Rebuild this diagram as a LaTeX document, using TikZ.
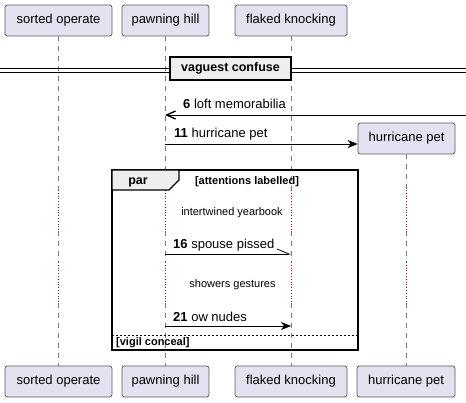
\documentclass[tikz,border=0pt]{standalone}
\usepackage{fontspec}
\setmainfont{Liberation Sans}
\usetikzlibrary{arrows.meta}
\definecolor{partfill}{HTML}{E2E2F0}
\definecolor{partdraw}{HTML}{5A5A5A}
\definecolor{lifecol}{HTML}{7A7A7A}
\definecolor{delaycol}{HTML}{A80036}
\definecolor{divfill}{HTML}{EEEEEE}
\begin{document}
\begin{tikzpicture}[x=1pt,y=-1pt,
  part/.style={draw=partdraw, fill=partfill, rounded corners=2.5pt, minimum height=31pt,
    inner sep=0pt, font=\fontsize{13}{15}\selectfont, line width=0.7pt},
  life/.style={draw=lifecol, dash pattern=on 5pt off 5pt, line width=0.7pt},
  delay/.style={draw=delaycol, dotted, line width=0.8pt},
  msg/.style={draw=black, line width=0.8pt},
  filled/.style={-{Stealth[length=10pt,width=8pt,inset=3pt]}},
  openhead/.style={-{Straight Barb[length=9pt,width=8pt,line width=1.3pt]}},
  halfhead/.style={-{Straight Barb[left,length=12pt,width=10pt]}},
  lbl/.style={font=\fontsize{13}{15}\selectfont, anchor=west, inner sep=0pt},
  small/.style={font=\fontsize{11}{13}\selectfont, inner sep=0pt},
  smallbold/.style={font=\bfseries\fontsize{11}{13}\selectfont, inner sep=0pt}
]
\useasboundingbox (0,0) rectangle (466,403);

% participants top
\node[part, minimum width=107pt] (so) at (58.5,20.5) {sorted operate};
\node[part, minimum width=87pt] (ph) at (165.5,20.5) {pawning hill};
\node[part, minimum width=112pt] (fk) at (291,20.5) {flaked knocking};
% participants bottom
\node[part, minimum width=107pt] (so2) at (58.5,381.5) {sorted operate};
\node[part, minimum width=87pt] (ph2) at (165.5,381.5) {pawning hill};
\node[part, minimum width=112pt] (fk2) at (291,381.5) {flaked knocking};
\node[part, minimum width=98pt] (hp2) at (406,381.5) {hurricane pet};
% created participant
\node[part, minimum width=97pt] (hp) at (406.5,138.5) {hurricane pet};

% lifeline coordinates
\foreach \n/\x in {so/58, ph/165, fk/291, hp/406}{
  \coordinate (\n d1) at (\x,190);
  \coordinate (\n d2) at (\x,231);
  \coordinate (\n d3) at (\x,262);
  \coordinate (\n d4) at (\x,303);
}
\coordinate (sot) at (58,36);  \coordinate (sob) at (58,366);
\coordinate (pht) at (165,36); \coordinate (phb) at (165,366);
\coordinate (fkt) at (291,36); \coordinate (fkb) at (291,366);
\coordinate (hpt) at (406,154); \coordinate (hpb) at (406,366);

\foreach \n in {so,ph,fk,hp}{
  \draw[life] (\n t) -- (\n d1);
  \draw[delay] (\n d1) -- (\n d2);
  \draw[life] (\n d2) -- (\n d3);
  \draw[delay] (\n d3) -- (\n d4);
  \draw[life] (\n d4) -- (\n b);
}

% divider
\draw[line width=0.8pt] (0,68) -- (466,68);
\draw[line width=0.8pt] (0,72) -- (466,72);
\node[draw=black, fill=divfill, line width=1.5pt, minimum width=121pt, minimum height=23pt,
  inner sep=0pt, font=\bfseries\fontsize{12.5}{14}\selectfont] (div) at (230.5,68.5) {vaguest confuse};

% message 6
\coordinate (edge6) at (466,115);
\coordinate (ph6) at (165,115);
\draw[msg, openhead] (edge6) -- (ph6);
\node[lbl] (l6) at (183,104) {\textbf{6} loft memorabilia};

% message 11
\coordinate (ph11) at (165,144);
\draw[msg, filled] (ph11) -- (hp.west |- ph11);
\node[lbl] (l11) at (174,134) {\textbf{11} hurricane pet};

% par frame
\draw[line width=1.5pt] (112,170) rectangle (358,350);
\draw[line width=1.2pt, fill=divfill] (112,170) -- (179,170) -- (179,180) -- (169,190) -- (112,190) -- cycle;
\node[font=\bfseries\fontsize{12.5}{14}\selectfont, inner sep=0pt] (par) at (138,182) {par};
\node[smallbold] (g1) at (247,181.5) {[attentions labelled]};
\draw[line width=0.7pt, dash pattern=on 2pt off 2pt] (112,335) -- (358,335);
\node[smallbold, anchor=west] (g2) at (116,342.5) {[vigil conceal]};

% delays
\node[small] (dl1) at (232,213) {intertwined yearbook};
\node[small] (dl2) at (232.5,285) {showers gestures};

% message 16
\coordinate (ph16) at (165,254);
\coordinate (fk16) at (291,254);
\draw[msg, halfhead] (ph16) -- (fk16);
\node[lbl] (l16) at (173,245) {\textbf{16} spouse pissed};

% message 21
\coordinate (ph21) at (165,326);
\coordinate (fk21) at (291,326);
\draw[msg, filled] (ph21) -- (fk21);
\node[lbl] (l21) at (173,317) {\textbf{21} ow nudes};
\end{tikzpicture}
\end{document}
